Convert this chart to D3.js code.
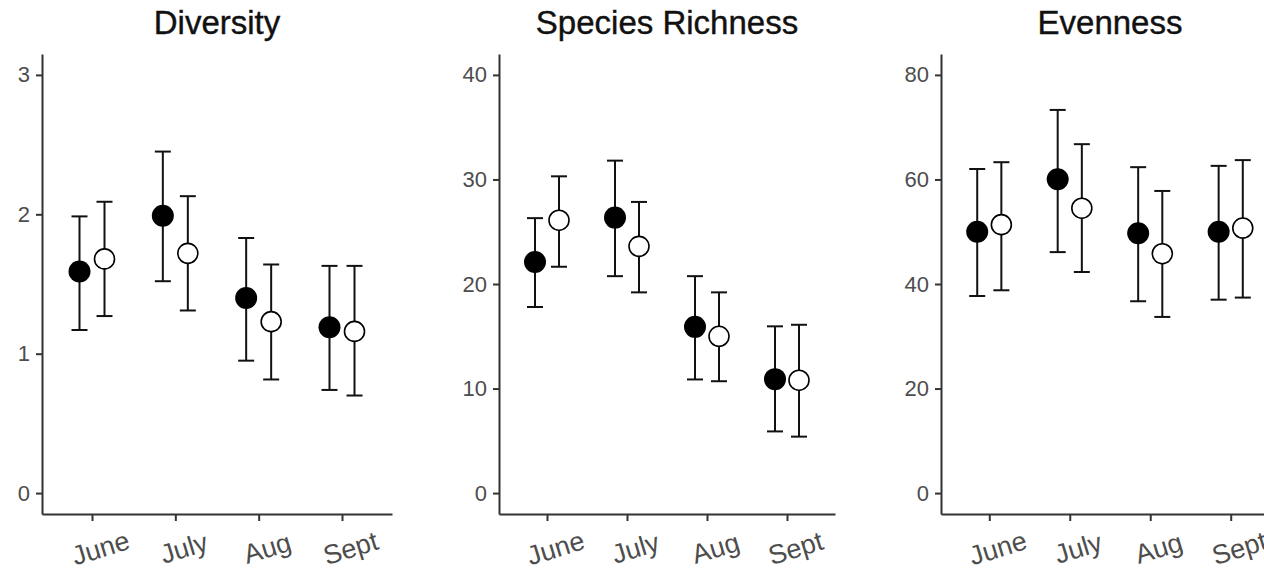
<!DOCTYPE html>
<html>
<head>
<meta charset="utf-8">
<script src="https://cdn.jsdelivr.net/npm/d3@7"></script>
<style>
  body { margin: 0; background: #fff; }
  svg { display: block; font-family: "Liberation Sans", Arial, sans-serif; }
  .axis path, .axis line { stroke: #333; stroke-width: 2px; }
  .axis text { fill: #4d4d4d; }
</style>
</head>
<body>
<svg id="chart" width="1264" height="572"></svg>
<script>
// months on the x axis
var months = ["June", "July", "Aug", "Sept"];

// panel titles and y ticks
var titles = ["Diversity", "Species Richness", "Evenness"];
var divTicks = [0, 1, 2, 3];
var richTicks = [0, 10, 20, 30, 40];
var evenTicks = [0, 20, 40, 60, 80];

// Diversity (filled = first group, open = second group)
var divFilledMean = [1.59, 1.99, 1.40, 1.19];
var divFilledLow  = [1.17, 1.52, 0.95, 0.74];
var divFilledHigh = [1.985, 2.45, 1.83, 1.63];
var divOpenMean   = [1.68, 1.72, 1.23, 1.16];
var divOpenLow    = [1.27, 1.31, 0.815, 0.70];
var divOpenHigh   = [2.09, 2.13, 1.64, 1.63];

// Species richness
var richFilledMean = [22.1, 26.35, 15.9, 10.9];
var richFilledLow  = [17.8, 20.75, 10.87, 5.9];
var richFilledHigh = [26.3, 31.8, 20.75, 15.95];
var richOpenMean   = [26.1, 23.6, 15.0, 10.8];
var richOpenLow    = [21.65, 19.2, 10.7, 5.4];
var richOpenHigh   = [30.3, 27.85, 19.2, 16.1];

// Evenness
var evenFilledMean = [50.0, 60.05, 49.7, 50.0];
var evenFilledLow  = [37.7, 46.1, 36.7, 37.0];
var evenFilledHigh = [62.0, 73.3, 62.35, 62.6];
var evenOpenMean   = [51.35, 54.5, 45.8, 50.7];
var evenOpenLow    = [38.8, 42.3, 33.7, 37.4];
var evenOpenHigh   = [63.3, 66.75, 57.8, 63.7];

var rows = function(mean, low, high, group)
{
    return months.map(function(m, i)
    {
        return {month: m, mean: mean[i], low: low[i], high: high[i], group: group};
    });
}

var panels = [
    {title: titles[0], ticks: divTicks, x0: 42, x1: 392,
     data: rows(divFilledMean, divFilledLow, divFilledHigh, 0)
           .concat(rows(divOpenMean, divOpenLow, divOpenHigh, 1))},
    {title: titles[1], ticks: richTicks, x0: 499, x1: 835,
     data: rows(richFilledMean, richFilledLow, richFilledHigh, 0)
           .concat(rows(richOpenMean, richOpenLow, richOpenHigh, 1))},
    {title: titles[2], ticks: evenTicks, x0: 941, x1: 1279,
     data: rows(evenFilledMean, evenFilledLow, evenFilledHigh, 0)
           .concat(rows(evenOpenMean, evenOpenLow, evenOpenHigh, 1))}
];

var plotTop = 54, plotBottom = 514;
var svg = d3.select("#chart");

panels.forEach(function(p)
{
    var maxY = d3.max(p.ticks);
    var yScale = d3.scaleLinear()
        .domain([-0.05 * maxY, maxY * 1.05])
        .range([plotBottom, plotTop]);

    var xScale = d3.scalePoint()
        .domain(months)
        .range([p.x0, p.x1])
        .padding(0.6);

    var dodge = xScale.step() * 0.15;
    var xPos = function(d) { return xScale(d.month) + (d.group === 0 ? -dodge : dodge); };

    var g = svg.append("g");

    // title
    g.append("text")
        .attr("x", (p.x0 + p.x1) / 2)
        .attr("y", 34)
        .attr("text-anchor", "middle")
        .attr("font-size", "33px")
        .attr("fill", "#111")
        .attr("stroke", "#111")
        .attr("stroke-width", 0.4)
        .text(p.title);

    // y axis
    g.append("g")
        .attr("class", "axis")
        .attr("transform", "translate(" + p.x0 + ",0)")
        .call(d3.axisLeft(yScale).tickValues(p.ticks).tickFormat(d3.format("d"))
              .tickSize(6).tickSizeOuter(0).tickPadding(6))
        .selectAll("text")
        .attr("font-size", "22px");

    // x axis
    var xAxis = g.append("g")
        .attr("class", "axis")
        .attr("transform", "translate(0," + plotBottom + ")")
        .call(d3.axisBottom(xScale).tickSize(7).tickSizeOuter(0));

    xAxis.selectAll("text")
        .attr("y", 0)
        .attr("dy", "0.35em")
        .attr("text-anchor", "middle")
        .attr("font-size", "27px")
        .attr("transform", "translate(8,34) rotate(-17)");

    // error bars
    var bars = g.append("g").selectAll("g")
        .data(p.data)
        .enter()
        .append("g")
        .attr("stroke", "#111")
        .attr("stroke-width", 2);

    bars.append("line")
        .attr("x1", xPos).attr("x2", xPos)
        .attr("y1", function(d) { return yScale(d.low); })
        .attr("y2", function(d) { return yScale(d.high); });

    bars.append("line")
        .attr("x1", function(d) { return xPos(d) - 8; })
        .attr("x2", function(d) { return xPos(d) + 8; })
        .attr("y1", function(d) { return yScale(d.high); })
        .attr("y2", function(d) { return yScale(d.high); });

    bars.append("line")
        .attr("x1", function(d) { return xPos(d) - 8; })
        .attr("x2", function(d) { return xPos(d) + 8; })
        .attr("y1", function(d) { return yScale(d.low); })
        .attr("y2", function(d) { return yScale(d.low); });

    // points
    g.append("g").selectAll("circle")
        .data(p.data)
        .enter()
        .append("circle")
        .attr("cx", xPos)
        .attr("cy", function(d) { return yScale(d.mean); })
        .attr("r", function(d) { return d.group === 0 ? 11 : 10; })
        .attr("fill", function(d) { return d.group === 0 ? "#000" : "#fff"; })
        .attr("stroke", "#000")
        .attr("stroke-width", function(d) { return d.group === 0 ? 0 : 1.6; });
});
</script>
</body>
</html>
